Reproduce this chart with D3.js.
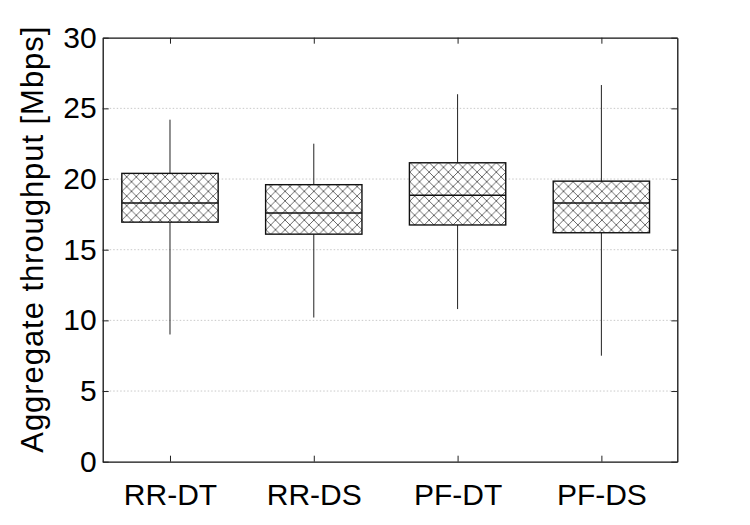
<!DOCTYPE html>
<html>
<head>
<meta charset="utf-8">
<script src="https://cdn.jsdelivr.net/npm/d3@7"></script>
<style>
  body { margin: 0; background: #fff; }
  text { font-family: "Liberation Sans", Arial, sans-serif; fill: #000; }
</style>
</head>
<body>
<div id="card"></div>
<script>
// chart data
const categories = ["RR-DT", "RR-DS", "PF-DT", "PF-DS"];
const whiskerLow = [9.0, 10.2, 10.8, 7.5];
const q1 = [16.95, 16.1, 16.75, 16.2];
const medians = [18.3, 17.6, 18.85, 18.3];
const q3 = [20.4, 19.6, 21.15, 19.85];
const whiskerHigh = [24.2, 22.5, 26.0, 26.65];
const yTicks = [0, 5, 10, 15, 20, 25, 30];
const yLabel = "Aggregate throughput [Mbps]";

const w = 750;
const h = 525;
const margin = { top: 37.7, left: 102.7, right: 72.7, bottom: 63.3 };
const width = w - margin.left - margin.right;
const height = h - margin.top - margin.bottom;

const svg = d3.select("#card")
  .append("svg")
    .attr("width", w)
    .attr("height", h);

// cross hatch for the boxes
const defs = svg.append("defs");
const pat = defs.append("pattern")
  .attr("id", "hatch")
  .attr("patternUnits", "userSpaceOnUse")
  .attr("width", 9.6)
  .attr("height", 9.6);
pat.append("rect").attr("width", 9.6).attr("height", 9.6).attr("fill", "#fff");
pat.append("path")
  .attr("d", "M0,0L9.6,9.6M9.6,0L0,9.6M-1,8.6L1,10.6M8.6,-1L10.6,1")
  .attr("stroke", "#444")
  .attr("stroke-width", 0.8)
  .attr("fill", "none");

const chart = svg.append("g")
  .attr("transform", "translate(" + margin.left + "," + margin.top + ")");

const x = d3.scaleLinear()
  .domain([0.532, 4.528])
  .range([0, width]);

const y = d3.scaleLinear()
  .domain([0, 30])
  .range([height, 0]);

// gridlines
chart.append("g")
  .selectAll("line")
  .data(yTicks.filter(d => d > 0 && d < 30))
  .enter()
  .append("line")
    .attr("x1", 0)
    .attr("x2", width)
    .attr("y1", d => y(d))
    .attr("y2", d => y(d))
    .attr("stroke", "#bbb")
    .attr("stroke-width", 0.8)
    .attr("stroke-dasharray", "1.5,2");

const data = categories.map((c, i) => ({
  name: c, i: i + 1,
  lo: whiskerLow[i], q1: q1[i], med: medians[i], q3: q3[i], hi: whiskerHigh[i]
}));
const boxW = x(1.335) - x(1);

const boxes = chart.selectAll(".box")
  .data(data)
  .enter()
  .append("g")
    .classed("box", true);

boxes.append("line")
  .attr("x1", d => x(d.i)).attr("x2", d => x(d.i))
  .attr("y1", d => y(d.hi)).attr("y2", d => y(d.q3))
  .attr("stroke", "#222").attr("stroke-width", 1);
boxes.append("line")
  .attr("x1", d => x(d.i)).attr("x2", d => x(d.i))
  .attr("y1", d => y(d.q1)).attr("y2", d => y(d.lo))
  .attr("stroke", "#222").attr("stroke-width", 1);
boxes.append("rect")
  .attr("x", d => x(d.i) - boxW)
  .attr("width", boxW * 2)
  .attr("y", d => y(d.q3))
  .attr("height", d => y(d.q1) - y(d.q3))
  .attr("fill", "url(#hatch)")
  .attr("stroke", "#111")
  .attr("stroke-width", 1.4);
boxes.append("line")
  .attr("x1", d => x(d.i) - boxW).attr("x2", d => x(d.i) + boxW)
  .attr("y1", d => y(d.med)).attr("y2", d => y(d.med))
  .attr("stroke", "#111").attr("stroke-width", 1.4);

// axes, ticks pointing inward on all four sides
const tickLen = 6;
const xb = chart.append("g").attr("transform", "translate(0," + height + ")")
  .call(d3.axisBottom(x).tickValues([1, 2, 3, 4]).tickSizeInner(-tickLen).tickSizeOuter(0)
    .tickPadding(22).tickFormat((d, i) => categories[i]));
const xt = chart.append("g")
  .call(d3.axisTop(x).tickValues([1, 2, 3, 4]).tickSizeInner(-tickLen).tickSizeOuter(0).tickFormat(""));
const yl = chart.append("g")
  .call(d3.axisLeft(y).tickValues(yTicks).tickSizeInner(-tickLen).tickSizeOuter(0).tickPadding(6));
const yr = chart.append("g").attr("transform", "translate(" + width + ",0)")
  .call(d3.axisRight(y).tickValues(yTicks).tickSizeInner(-tickLen).tickSizeOuter(0).tickFormat(""));

[xb, xt, yl, yr].forEach(g => {
  g.select(".domain").attr("stroke", "#111").attr("stroke-width", 1.3);
  g.selectAll(".tick line").attr("stroke", "#222").attr("stroke-width", 1);
});
xb.selectAll("text").style("font-size", "30px").attr("dy", "0.71em");
yl.selectAll("text").style("font-size", "30px");

// y axis label
chart.append("text")
  .attr("transform", "translate(" + (-60) + "," + (height / 2 - 10) + ") rotate(-90)")
  .attr("text-anchor", "middle")
  .style("font-size", "31px")
  .attr("textLength", 426)
  .text(yLabel);
</script>
</body>
</html>
